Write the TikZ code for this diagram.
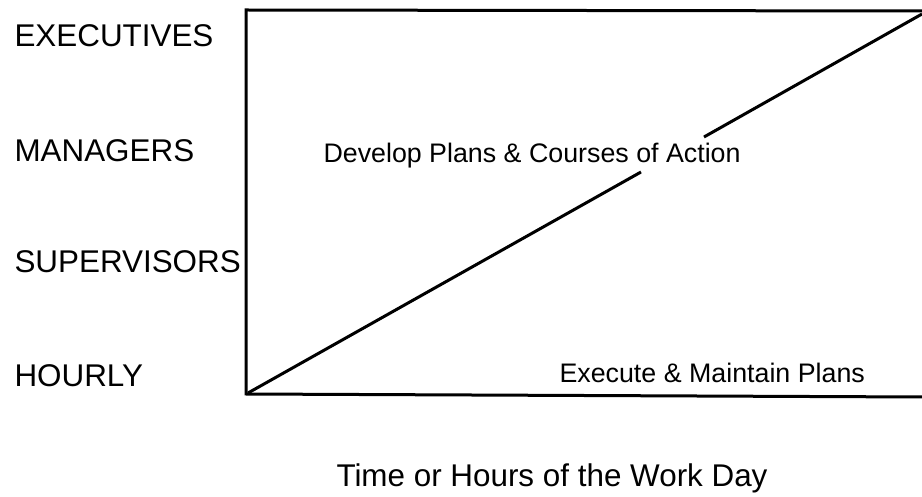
\documentclass[tikz,border=0pt]{standalone}
\usepackage{fontspec}
\setmainfont{Liberation Sans}
\usepackage{tikz}

\begin{document}
\begin{tikzpicture}[x=0.5pt,y=-0.5pt,line width=1.5pt]
\useasboundingbox (0,0) rectangle (922,497);
% levels down the left side
\tikzset{level/.style={anchor=base west,inner sep=0pt,font=\fontsize{15.7}{18}\selectfont},
  phase/.style={anchor=base west,inner sep=0pt,font=\fontsize{13.4}{16}\selectfont}}
\node[level] (exec) at (13,47) {EXECUTIVES};
\node[level] (mgr) at (13,162) {MANAGERS};
\node[level] (sup) at (13,273) {SUPERVISORS};
\node[level] (hourly) at (13,387) {HOURLY};
% frame, open on the right
\draw (922,11) -- (246,10) -- (246,394) -- (922,397);
% split between planning and doing
\coordinate (o) at (248,393);
\coordinate (gapA) at (641,172);
\coordinate (gapB) at (704,137);
\coordinate (e) at (922,14);
\draw (o) -- (gapA);
\draw (gapB) -- (e);
\node[phase] (plan) at (322,163) {Develop Plans \& Courses of Action};
\node[phase] (doit) at (558,383) {Execute \& Maintain Plans};
\node[level] (time) at (335,487) {Time or Hours of the Work Day};
\end{tikzpicture}
\end{document}
